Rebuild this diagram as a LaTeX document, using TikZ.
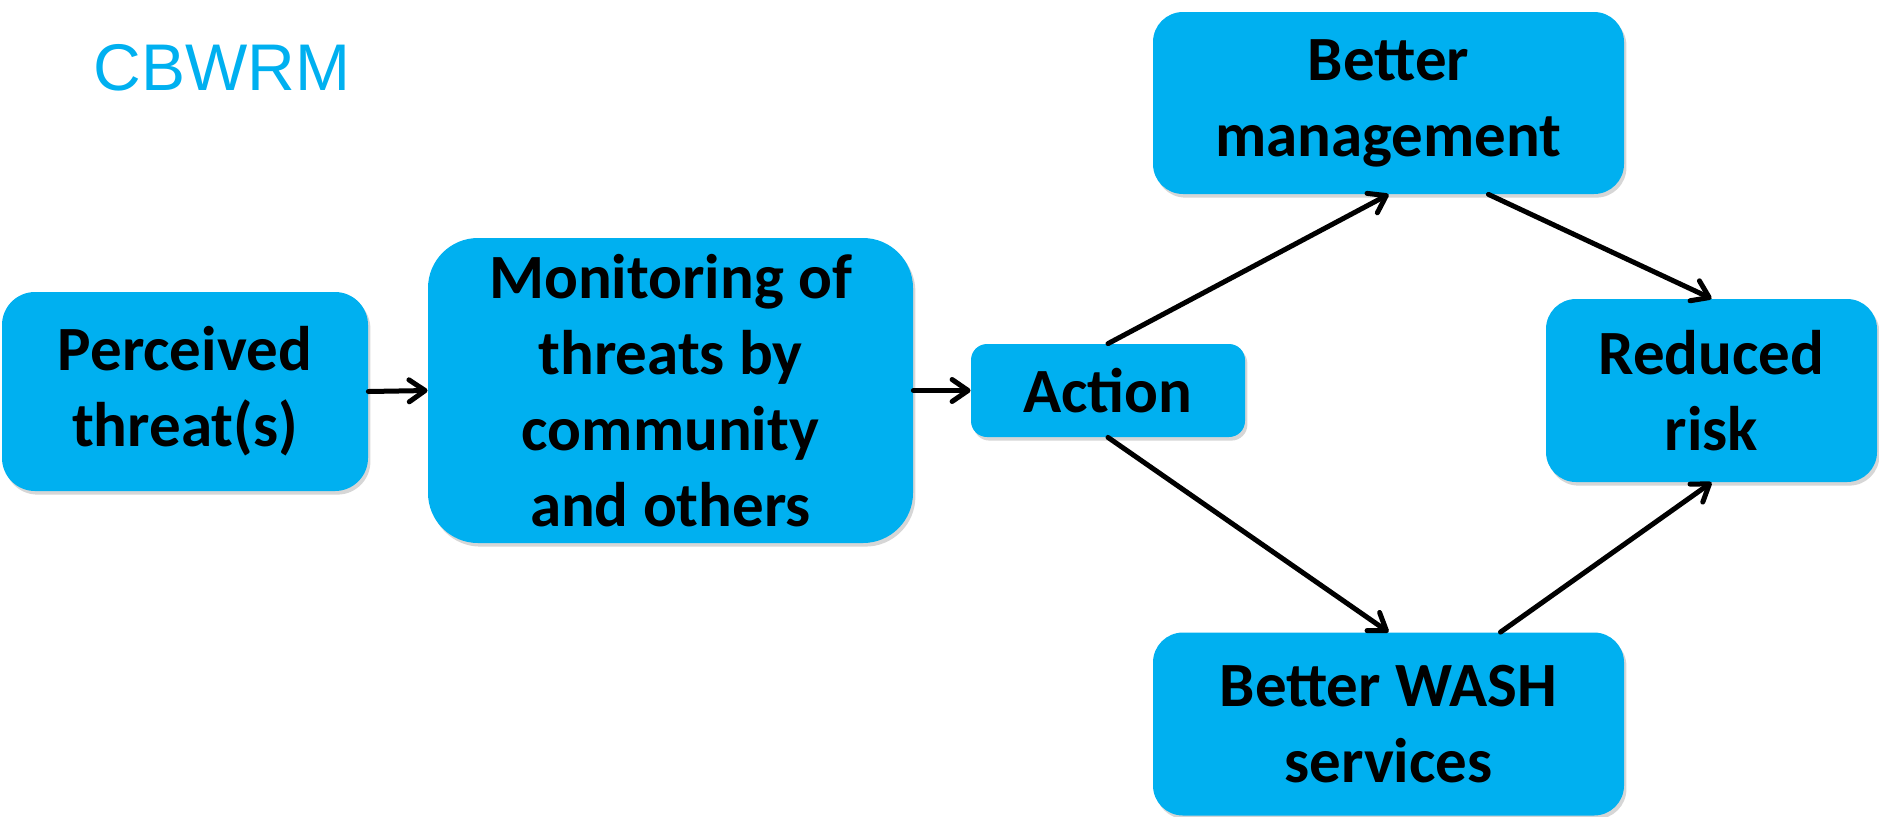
\documentclass[tikz,border=0pt]{standalone}
\usepackage{fontspec}
\setmainfont{Carlito}
\newfontfamily\labelfont{Liberation Sans}
\usetikzlibrary{arrows.meta,shadows}
\definecolor{skyblue}{RGB}{0,176,240}
\begin{document}
\begin{tikzpicture}[x=0.5pt,y=-0.5pt,
  flowbox/.style={fill=skyblue, draw=none, inner sep=0pt, align=center,
    font=\fontsize{31.5pt}{38pt}\selectfont\bfseries,
    drop shadow={shadow xshift=1.2pt, shadow yshift=-1.8pt, opacity=0.16, fill=black}},
  link/.style={line width=2.5pt, line cap=round,
    -{Straight Barb[length=8pt,width=11pt,line cap=round,line join=round]}}]
\useasboundingbox (0,0) rectangle (1879,816);

% heading
\node[anchor=base west, inner sep=0pt, text=skyblue,
      font=\labelfont\fontsize{33pt}{38pt}\selectfont] (head) at (93,90) {CBWRM};

% boxes
\node[flowbox, minimum width=183pt, minimum height=99.5pt, rounded corners=16.5pt]
  (perc) at (185,391.5) {Perceived\\threat(s)};
\node[flowbox, minimum width=242.5pt, minimum height=152.5pt, rounded corners=25pt]
  (mon) at (670.5,390.5) {Monitoring of\\threats by\\community\\and others};
\node[flowbox, minimum width=137pt, minimum height=46.5pt, rounded corners=8pt]
  (act) at (1108,390.5) {Action};
\node[flowbox, minimum width=235.5pt, minimum height=91pt, rounded corners=15pt]
  (bm) at (1388.5,103) {Better\\management};
\node[flowbox, minimum width=165.5pt, minimum height=91.5pt, rounded corners=15pt]
  (rr) at (1711.5,390.5) {Reduced\\risk};
\node[flowbox, minimum width=235.5pt, minimum height=91.5pt, rounded corners=15pt]
  (wash) at (1388.5,724) {Better WASH\\services};

% connectors
\draw[link] (perc.east) -- (mon.west);
\draw[link] (mon.east) -- (act.west);
\draw[link] (act.north) -- (bm.south);
\draw[link] (act.south) -- (wash.north);
\draw[link] ([xshift=50pt]bm.south) -- (rr.north);
\draw[link] ([xshift=56pt]wash.north) -- (rr.south);
\end{tikzpicture}
\end{document}
